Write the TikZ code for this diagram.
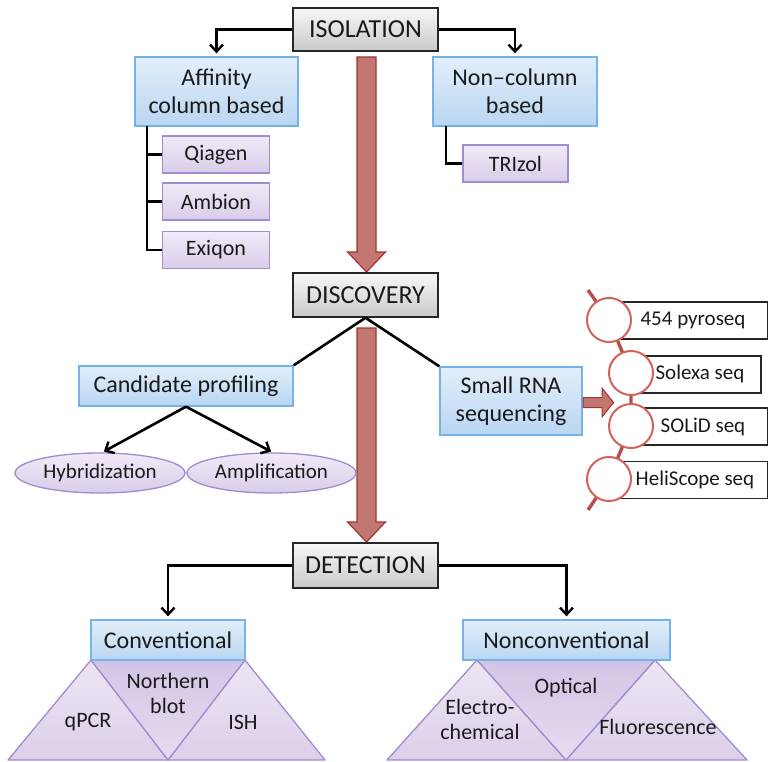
\documentclass[tikz,border=0pt]{standalone}
\usepackage{fontspec}
\setmainfont{Carlito}
\usetikzlibrary{shapes.geometric,arrows.meta}
\definecolor{bluetop}{HTML}{E2EEFA}
\definecolor{bluebot}{HTML}{B9D6F2}
\definecolor{bluebd}{HTML}{74B3E8}
\definecolor{purptop}{HTML}{F1EAF7}
\definecolor{purpbot}{HTML}{D9CCE9}
\definecolor{purpbd}{HTML}{A08CCE}
\definecolor{redfill}{HTML}{C27672}
\definecolor{redbd}{HTML}{A33430}
\definecolor{ringc}{HTML}{D4615C}
\definecolor{seqline}{HTML}{B4504C}
\definecolor{txt}{HTML}{1A1A1A}
\definecolor{tritop}{HTML}{EDE5F3}
\definecolor{tribot}{HTML}{DCCFEA}
\definecolor{midtop}{HTML}{D3C4E5}
\definecolor{midbot}{HTML}{E6DCF0}
\tikzset{
  hdr/.style={draw=black!85, line width=1.5, top color=gray!6, bottom color=gray!42,
    minimum width=145, inner sep=0, text=txt, font=\fontsize{26}{30}\selectfont},
  bluebox/.style={draw=bluebd, line width=1.3, top color=bluetop, bottom color=bluebot,
    inner sep=0, align=center, text=txt, font=\fontsize{24}{28}\selectfont},
  purpbox/.style={draw=purpbd, line width=1.3, top color=purptop, bottom color=purpbot,
    inner sep=0, minimum width=107, minimum height=37, text=txt, font=\fontsize{22}{26}\selectfont},
  ellbox/.style={ellipse, draw=purpbd, line width=1.3, top color=purptop, bottom color=purpbot,
    inner sep=0, minimum width=170, minimum height=40, text=txt, font=\fontsize{21}{25}\selectfont},
  conn/.style={line width=2.6, black},
  tipped/.style={conn, -{Straight Barb[length=7pt,width=13pt,line width=2.4pt]}},
  redarrow/.style={fill=redfill, draw=redbd, line width=1.2},
  seqbox/.style={draw=black!85, line width=1.8, fill=white, inner sep=0, minimum height=37},
  ring/.style={circle, draw=ringc, line width=2, fill=white, minimum size=44, inner sep=0},
  seqtxt/.style={text=txt, font=\fontsize{21}{25}\selectfont, inner sep=0},
  trilabel/.style={text=txt, font=\fontsize{22}{25}\selectfont, align=center, inner sep=0},
  tri/.style={top color=tritop, bottom color=tribot, draw=purpbd, line width=1.3, line join=round},
  midtri/.style={top color=midtop, bottom color=midbot, draw=purpbd, line width=1.3, line join=round}
}
\begin{document}
\begin{tikzpicture}[x=1pt,y=-1pt]
\useasboundingbox (0,0) rectangle (768,762);
\fill[white] (0,0) rectangle (768,762);

% ---------- big red arrows ----------
\draw[redarrow] (357,57) -- (376,57) -- (376,252) -- (385.5,252) -- (366.5,272) -- (347.5,252) -- (357,252) -- cycle;
\draw[redarrow] (357,328) -- (376,328) -- (376,522) -- (385.5,522) -- (366.5,542) -- (347.5,522) -- (357,522) -- cycle;

% ---------- ISOLATION ----------
\node[hdr, minimum height=43] (iso) at (365.5,29.5) {ISOLATION};
\node[bluebox, minimum width=163, minimum height=69] (aff) at (216.5,91.5) {Affinity\\column based};
\node[bluebox, minimum width=164, minimum height=69] (nonc) at (515,91.5) {Non–column\\based};
\node[purpbox] (qia) at (216,154.5) {Qiagen};
\node[purpbox] (amb) at (216,201.5) {Ambion};
\node[purpbox] (exi) at (216,250) {Exiqon};
\node[purpbox, minimum width=105] (trz) at (515.5,163.5) {TRIzol};

\draw[tipped, shorten >=3pt] (iso.west) -| (aff.north);
\draw[tipped, shorten >=3pt] (iso.east) -| (nonc.north);
\coordinate (affdrop) at (147,126);
\draw[conn] (affdrop) |- (exi.west);
\draw[conn] (affdrop |- qia.west) -- (qia.west);
\draw[conn] (affdrop |- amb.west) -- (amb.west);
\coordinate (noncdrop) at (446,126);
\draw[conn] (noncdrop) |- (trz.west);

% ---------- DISCOVERY ----------
\node[hdr, minimum height=44] (disc) at (365.5,295) {DISCOVERY};
\node[bluebox, minimum width=214, minimum height=40] (cand) at (186,386) {Candidate profiling};
\node[bluebox, minimum width=142, minimum height=68] (srna) at (511,401) {Small RNA\\sequencing};
\node[ellbox] (hyb) at (100,473) {Hybridization};
\node[ellbox, minimum width=169] (amp) at (271.5,473) {Amplification};

\draw[conn] (disc.south) -- (cand.north east);
\draw[conn] (disc.south) -- (srna.north west);
\draw[tipped, shorten >=1pt] (cand.south) -- (103,452);
\draw[tipped, shorten >=1pt] (cand.south) -- (272,452);

% small red arrow
\draw[redarrow, line width=1] (583,397.5) -- (602,397.5) -- (602,388) -- (613.5,402.5) -- (602,417) -- (602,407.5) -- (583,407.5) -- cycle;

% sequencing list
\coordinate (seqtop) at (588,290);
\coordinate (seqbot) at (588,510);
\draw[seqline, line width=3.4] (seqtop) -- (609,320) -- (631,373) -- (631,426) -- (609,479) -- (seqbot);
\node[seqbox, minimum width=158, anchor=west] (b1) at (609,320.5) {};
\node[seqbox, minimum width=129, anchor=west] (b2) at (631,374.5) {};
\node[seqbox, minimum width=136, anchor=west] (b3) at (631,426.5) {};
\node[seqbox, minimum width=158, anchor=west] (b4) at (609,480) {};
\node[ring] (r1) at (609,320) {};
\node[ring] (r2) at (631,373) {};
\node[ring] (r3) at (631,426) {};
\node[ring] (r4) at (609,479) {};
\node[seqtxt] (t1) at (693,320) {454 pyroseq};
\node[seqtxt] (t2) at (700,374) {Solexa seq};
\node[seqtxt] (t3) at (703,427) {SOLiD seq};
\node[seqtxt] (t4) at (695,480) {HeliScope seq};

% ---------- DETECTION ----------
\node[hdr, minimum height=45] (det) at (365.5,565.5) {DETECTION};

% triangles conventional
\path[tri] (8,760) -- (91,660) -- (168,760) -- cycle;
\path[tri] (168,760) -- (245,660) -- (325,760) -- cycle;
\path[midtri] (91,660) -- (245,660) -- (168,760) -- cycle;
% triangles nonconventional
\path[tri] (387,760) -- (477,660) -- (566,760) -- cycle;
\path[tri] (566,760) -- (655,660) -- (747,760) -- cycle;
\path[midtri] (477,660) -- (655,660) -- (566,760) -- cycle;

\node[bluebox, minimum width=154, minimum height=40] (conv) at (168,640) {Conventional};
\node[bluebox, minimum width=207, minimum height=40] (nconv) at (566.5,640) {Nonconventional};

\draw[tipped, shorten >=3pt] (det.west) -| (conv.north);
\draw[tipped, shorten >=3pt] (det.east) -| (nconv.north);

\node[trilabel] (qpcr) at (88,722) {qPCR};
\node[trilabel] (nb) at (168,693) {Northern\\blot};
\node[trilabel] (ish) at (243,722) {ISH};
\node[trilabel] (ec) at (480,719) {Electro-\\chemical};
\node[trilabel] (opt) at (566,688) {Optical};
\node[trilabel] (flu) at (658,727) {Fluorescence};
\end{tikzpicture}
\end{document}
